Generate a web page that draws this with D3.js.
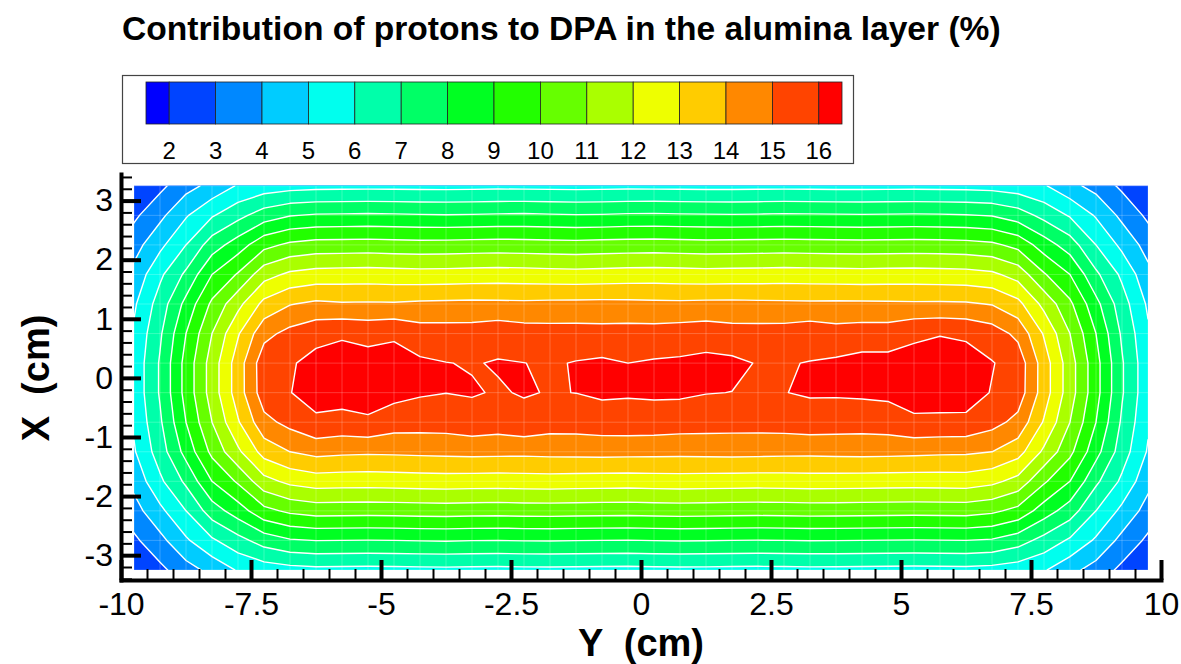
<!DOCTYPE html>
<html>
<head>
<meta charset="utf-8">
<script src="https://cdn.jsdelivr.net/npm/d3@7"></script>
<style>
  body { margin: 0; background: #fff; }
  text { font-family: 'Liberation Sans', Arial, sans-serif; }
</style>
</head>
<body>
<svg id="chart" width="1181" height="664"></svg>
<script>
// mesh nodes along the horizontal "Y (cm)" direction
const yNodes = [
  -9.75, -9.25, -8.75, -8.25, -7.75, -7.25, -6.75, -6.25, -5.75, -5.25,
  -4.75, -4.25, -3.75, -3.25, -2.75, -2.25, -1.75, -1.25, -0.75, -0.25,
  0.25, 0.75, 1.25, 1.75, 2.25, 2.75, 3.25, 3.75, 4.25, 4.75,
  5.25, 5.75, 6.25, 6.75, 7.25, 7.75, 8.25, 8.75, 9.25, 9.75
]
// mesh nodes along the vertical "X (cm)" direction, top row first
const xNodes = [3.25, 2.75, 2.25, 1.75, 1.25, 0.75, 0.25, -0.25, -0.75, -1.25, -1.75, -2.25, -2.75, -3.25]

const levels = [2, 3, 4, 5, 6, 7, 8, 9, 10, 11, 12, 13, 14, 15, 16]
const bandColors = [
  '#0000ff', '#0044ff', '#0088ff', '#00ccff', '#00ffee', '#00ffaa', '#00ff66', '#00ff22',
  '#22ff00', '#66ff00', '#aaff00', '#eeff00', '#ffcc00', '#ff8800', '#ff4400', '#ff0000'
]

const majorY = [-10, -7.5, -5, -2.5, 0, 2.5, 5, 7.5, 10]
const majorX = [-3, -2, -1, 0, 1, 2, 3]

// proton contribution to DPA (%), one row per xNode
const dpaRows = [
  [2.2, 2.75, 3.65, 4.3, 5.1, 5.45, 5.62,
   5.70, 5.72, 5.73, 5.72, 5.70, 5.70, 5.72, 5.74, 5.73, 5.71, 5.70, 5.72, 5.74, 5.73, 5.72, 5.70, 5.70, 5.72, 5.73, 5.72, 5.70, 5.70, 5.71, 5.72, 5.70, 5.68,
   5.62, 5.45, 5.1, 4.3, 3.65, 2.8, 2.2],
  [2.8, 3.75, 4.9, 5.9, 6.7, 7.5, 7.95,
   8.10, 8.12, 8.15, 8.12, 8.08, 8.05, 8.08, 8.12, 8.15, 8.10, 8.06, 8.08, 8.14, 8.16, 8.12, 8.10, 8.08, 8.10, 8.14, 8.12, 8.10, 8.08, 8.10, 8.12, 8.10, 8.05,
   7.95, 7.5, 6.7, 5.9, 4.9, 3.75, 2.8],
  [3.6, 4.75, 6.0, 7.5, 8.5, 9.7, 10.2,
   10.40, 10.42, 10.45, 10.40, 10.36, 10.38, 10.42, 10.45, 10.42, 10.38, 10.35, 10.40, 10.44, 10.46, 10.42, 10.38, 10.40, 10.42, 10.45, 10.42, 10.40, 10.38, 10.40, 10.42, 10.40, 10.35,
   10.2, 9.7, 8.5, 7.5, 6.0, 4.75, 3.6],
  [4.3, 5.8, 7.2, 9.0, 10.1, 11.6, 12.2,
   12.40, 12.45, 12.48, 12.42, 12.38, 12.40, 12.44, 12.48, 12.45, 12.40, 12.36, 12.40, 12.46, 12.48, 12.44, 12.40, 12.42, 12.44, 12.48, 12.45, 12.42, 12.40, 12.42, 12.44, 12.40, 12.36,
   12.2, 11.6, 10.1, 9.0, 7.2, 5.8, 4.3],
  [4.85, 6.45, 8.3, 10.2, 11.7, 13.3, 13.95,
   14.20, 14.10, 14.12, 14.10, 14.18, 14.22, 14.25, 14.22, 14.20, 14.24, 14.26, 14.28, 14.26, 14.22, 14.20, 14.24, 14.26, 14.22, 14.20, 14.18, 14.20, 14.18, 14.16, 14.14, 14.15, 14.12,
   13.95, 13.3, 11.7, 10.2, 8.3, 6.45, 4.85],
  [5.15, 6.85, 9.0, 11.0, 12.9, 14.7, 15.3,
   15.70, 15.88, 15.72, 15.87, 15.47, 15.45, 15.45, 15.63, 15.45, 15.40, 15.40, 15.36, 15.40, 15.39, 15.47, 15.56, 15.40, 15.40, 15.42, 15.60, 15.40, 15.50, 15.50, 15.85, 15.96, 15.85,
   15.5, 14.75, 12.9, 11.0, 9.0, 6.85, 5.15],
  [5.3, 7.1, 9.35, 11.45, 13.5, 15.6, 15.9,
   16.30, 16.40, 16.35, 16.35, 16.15, 16.02, 15.95, 16.06, 16.01, 15.90, 16.05, 16.15, 16.00, 16.10, 16.15, 16.25, 16.20, 15.95, 15.95, 16.03, 16.15, 16.30, 16.30, 16.30, 16.40, 16.40,
   16.05, 15.6, 13.5, 11.45, 9.35, 7.1, 5.3],
  [5.3, 7.1, 9.35, 11.45, 13.5, 15.55, 15.98,
   16.30, 16.40, 16.35, 16.30, 16.10, 16.01, 16.07, 15.93, 16.06, 15.96, 16.01, 16.15, 16.10, 16.15, 16.15, 16.03, 15.99, 15.90, 15.98, 16.10, 16.10, 16.15, 16.20, 16.35, 16.40, 16.40,
   15.95, 15.55, 13.5, 11.45, 9.35, 7.1, 5.3],
  [5.15, 6.85, 9.0, 11.0, 12.9, 14.7, 15.3,
   15.86, 15.69, 15.88, 15.47, 15.43, 15.45, 15.63, 15.50, 15.73, 15.45, 15.45, 15.55, 15.57, 15.55, 15.47, 15.43, 15.40, 15.40, 15.45, 15.55, 15.50, 15.45, 15.53, 15.85, 15.81, 15.80,
   15.35, 14.7, 12.9, 11.0, 9.0, 6.85, 5.15],
  [4.9, 6.5, 8.35, 10.25, 11.8, 13.4, 14.0,
   14.30, 14.20, 14.15, 14.18, 14.22, 14.26, 14.30, 14.28, 14.25, 14.30, 14.32, 14.34, 14.32, 14.30, 14.28, 14.30, 14.32, 14.30, 14.26, 14.25, 14.28, 14.30, 14.28, 14.24, 14.18, 14.15,
   14.0, 13.4, 11.8, 10.25, 8.35, 6.5, 4.9],
  [4.3, 5.8, 7.2, 9.0, 10.15, 11.65, 12.25,
   12.50, 12.46, 12.44, 12.48, 12.52, 12.55, 12.52, 12.50, 12.54, 12.56, 12.52, 12.50, 12.48, 12.52, 12.55, 12.52, 12.50, 12.48, 12.50, 12.53, 12.52, 12.50, 12.48, 12.46, 12.48, 12.50,
   12.25, 11.65, 10.15, 9.0, 7.2, 5.8, 4.3],
  [3.6, 4.75, 6.0, 7.5, 8.5, 9.7, 10.2,
   10.42, 10.40, 10.38, 10.40, 10.44, 10.46, 10.42, 10.40, 10.44, 10.45, 10.42, 10.40, 10.38, 10.42, 10.45, 10.43, 10.40, 10.38, 10.40, 10.43, 10.42, 10.40, 10.38, 10.36, 10.38, 10.40,
   10.2, 9.7, 8.5, 7.5, 6.0, 4.75, 3.6],
  [2.8, 3.7, 4.85, 5.85, 6.65, 7.45, 7.9,
   8.02, 8.00, 7.98, 8.00, 8.04, 8.06, 8.02, 8.00, 8.04, 8.05, 8.02, 8.00, 7.98, 8.02, 8.05, 8.03, 8.00, 7.98, 8.00, 8.03, 8.02, 8.00, 7.98, 7.96, 7.98, 8.00,
   7.9, 7.45, 6.65, 5.85, 4.85, 3.7, 2.8],
  [2.2, 2.75, 3.6, 4.3, 5.1, 5.45, 5.65,
   5.75, 5.74, 5.72, 5.74, 5.76, 5.78, 5.76, 5.74, 5.76, 5.77, 5.75, 5.74, 5.72, 5.75, 5.77, 5.76, 5.74, 5.72, 5.74, 5.76, 5.75, 5.74, 5.72, 5.70, 5.72, 5.74,
   5.65, 5.45, 5.1, 4.3, 3.6, 2.75, 2.2]
]

const svg = d3.select('#chart')

// horizontal axis is Y (cm), vertical axis is X (cm)
const scaleY = d3.scaleLinear().domain([-10, 10]).range([121, 1161])
const scaleX = d3.scaleLinear().domain([-3.42, 3.45]).range([580, 174])

const nCols = yNodes.length
const nRows = xNodes.length
const gridToY = d3.scaleLinear().domain([0.5, nCols - 0.5]).range([yNodes[0], yNodes[nCols - 1]])
const gridToX = d3.scaleLinear().domain([0.5, nRows - 0.5]).range([xNodes[0], xNodes[nRows - 1]])

const path = d3.geoPath(
  d3.geoTransform({
    point(gx, gy) {
      this.stream.point(scaleY(gridToY(gx)), scaleX(gridToX(gy)))
    }
  })
)

const dataLeft = scaleY(yNodes[0])
const dataRight = scaleY(yNodes[nCols - 1])
const dataTop = scaleX(xNodes[0])
const dataBottom = scaleX(xNodes[nRows - 1])

svg
  .append('defs')
  .append('clipPath')
  .attr('id', 'data-clip')
  .append('rect')
  .attr('x', dataLeft)
  .attr('y', dataTop)
  .attr('width', dataRight - dataLeft)
  .attr('height', dataBottom - dataTop)

const drawContours = () => {
  const contours = d3.contours().size([nCols, nRows]).thresholds(levels)(dpaRows.flat())
  const field = svg.append('g').attr('clip-path', 'url(#data-clip)')

  field
    .append('rect')
    .attr('x', dataLeft)
    .attr('y', dataTop)
    .attr('width', dataRight - dataLeft)
    .attr('height', dataBottom - dataTop)
    .attr('fill', bandColors[0])

  field
    .selectAll('path.band')
    .data(contours)
    .join('path')
    .attr('class', 'band')
    .attr('d', path)
    .attr('fill', (d, i) => bandColors[i + 1])

  // faint mesh
  field
    .selectAll('line.mesh-v')
    .data(yNodes)
    .join('line')
    .attr('class', 'mesh-v')
    .attr('x1', d => scaleY(d))
    .attr('x2', d => scaleY(d))
    .attr('y1', dataTop)
    .attr('y2', dataBottom)
    .attr('stroke', '#fff')
    .attr('stroke-opacity', 0.22)

  field
    .selectAll('line.mesh-h')
    .data(xNodes)
    .join('line')
    .attr('class', 'mesh-h')
    .attr('x1', dataLeft)
    .attr('x2', dataRight)
    .attr('y1', d => scaleX(d))
    .attr('y2', d => scaleX(d))
    .attr('stroke', '#fff')
    .attr('stroke-opacity', 0.22)

  field
    .selectAll('path.iso')
    .data(contours)
    .join('path')
    .attr('class', 'iso')
    .attr('d', path)
    .attr('fill', 'none')
    .attr('stroke', '#fff')
    .attr('stroke-width', 1.4)
    .attr('stroke-linejoin', 'round')
}

const drawAxes = () => {
  const minorY = d3.range(-10, 10.01, 0.5).filter(v => !majorY.includes(v))
  const minorX = d3.range(-3.4, 3.41, 0.2).map(v => +v.toFixed(1)).filter(v => !majorX.includes(v))

  const bottom = svg.append('g').attr('transform', `translate(0,${scaleX.range()[0]})`)
  bottom
    .append('g')
    .call(d3.axisBottom(scaleY).tickValues(minorY).tickSize(-11).tickSizeOuter(0).tickFormat(''))
    .call(g => g.select('.domain').remove())
    .call(g => g.selectAll('.tick line').attr('stroke-width', 2))
  bottom
    .append('g')
    .call(
      d3.axisBottom(scaleY).tickValues(majorY).tickSize(-20).tickSizeOuter(0).tickPadding(12).tickFormat(d => String(d))
    )
    .call(g => g.select('.domain').attr('stroke-width', 4).attr('stroke-linecap', 'square'))
    .call(g => g.selectAll('.tick line').attr('stroke-width', 4))
    .call(g => g.selectAll('.tick text').attr('font-size', 32).attr('fill', '#000'))

  const left = svg.append('g').attr('transform', `translate(${scaleY(-10)},0)`)
  left
    .append('g')
    .call(d3.axisLeft(scaleX).tickValues(minorX).tickSize(-11).tickSizeOuter(0).tickFormat(''))
    .call(g => g.select('.domain').remove())
    .call(g => g.selectAll('.tick line').attr('stroke-width', 2))
  left
    .append('g')
    .call(
      d3.axisLeft(scaleX).tickValues(majorX).tickSize(-20).tickSizeOuter(0).tickPadding(8).tickFormat(d => String(d))
    )
    .call(g => g.select('.domain').attr('stroke-width', 4).attr('stroke-linecap', 'square'))
    .call(g => g.selectAll('.tick line').attr('stroke-width', 4))
    .call(g => g.selectAll('.tick text').attr('font-size', 32).attr('fill', '#000'))

  svg
    .append('text')
    .attr('x', 641)
    .attr('y', 656)
    .attr('text-anchor', 'middle')
    .attr('font-size', 38)
    .attr('font-weight', 'bold')
    .style('white-space', 'pre')
    .text('Y  (cm)')

  svg
    .append('text')
    .attr('transform', 'translate(49,378) rotate(-90)')
    .attr('text-anchor', 'middle')
    .attr('font-size', 38)
    .attr('font-weight', 'bold')
    .style('white-space', 'pre')
    .text('X  (cm)')
}

const drawLegend = () => {
  const legendScale = d3.scaleLinear().domain([1.5, 16.5]).range([146, 842])
  const edges = [1.5, ...levels, 16.5]
  const legend = svg.append('g').attr('id', 'legend')

  legend
    .append('rect')
    .attr('x', 122.5)
    .attr('y', 75.5)
    .attr('width', 731)
    .attr('height', 88)
    .attr('fill', '#fff')
    .attr('stroke', '#444')
    .attr('stroke-width', 1.2)

  legend
    .selectAll('rect.cell')
    .data(bandColors)
    .join('rect')
    .attr('class', 'cell')
    .attr('x', (d, i) => legendScale(edges[i]))
    .attr('y', 82)
    .attr('width', (d, i) => legendScale(edges[i + 1]) - legendScale(edges[i]))
    .attr('height', 42)
    .attr('fill', d => d)
    .attr('stroke', '#222')
    .attr('stroke-width', 0.8)

  legend
    .selectAll('text')
    .data(levels)
    .join('text')
    .attr('x', d => legendScale(d))
    .attr('y', 159)
    .attr('text-anchor', 'middle')
    .attr('font-size', 24)
    .text(d => d)
}

svg
  .append('text')
  .attr('x', 122)
  .attr('y', 40)
  .attr('font-size', 33.6)
  .attr('font-weight', 'bold')
  .text('Contribution of protons to DPA in the alumina layer (%)')

drawContours()
drawAxes()
drawLegend()
</script>
</body>
</html>
